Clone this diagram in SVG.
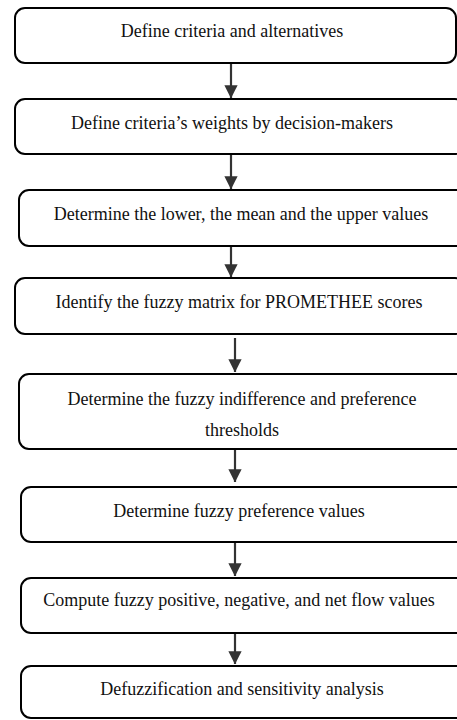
<svg xmlns="http://www.w3.org/2000/svg" width="457" height="720" viewBox="0 0 457 720">
<defs>
<style>
.box{fill:#fff;stroke:#000;stroke-width:2}
.t{font-family:"Liberation Serif","Times New Roman",serif;font-size:18px;fill:#111;text-anchor:middle}
.c{stroke:#333;stroke-width:2.2;fill:none}
</style>
<marker id="ah" markerWidth="6" markerHeight="6" refX="5.8" refY="3" orient="auto" markerUnits="strokeWidth">
<path d="M0,0 L6,3 L0,6 Z" fill="#333"/>
</marker>
</defs>
<rect width="457" height="720" fill="#fff"/>
<g id="connectors">
<line class="c" x1="231" y1="64" x2="231" y2="98" marker-end="url(#ah)"/>
<line class="c" x1="231" y1="155" x2="231" y2="189" marker-end="url(#ah)"/>
<line class="c" x1="231" y1="247" x2="231" y2="277" marker-end="url(#ah)"/>
<line class="c" x1="235" y1="338" x2="235" y2="372" marker-end="url(#ah)"/>
<line class="c" x1="235" y1="450" x2="235" y2="482" marker-end="url(#ah)"/>
<line class="c" x1="235" y1="543" x2="235" y2="576" marker-end="url(#ah)"/>
<line class="c" x1="235" y1="634" x2="235" y2="664" marker-end="url(#ah)"/>
</g>
<g id="n1"><rect class="box" x="15" y="8" width="441" height="55" rx="10"/><text class="t" x="232" y="37">Define criteria and alternatives</text></g>
<g id="n2"><rect class="box" x="15" y="99" width="450" height="55" rx="10"/><text class="t" x="232" y="129">Define criteria’s weights by decision-makers</text></g>
<g id="n3"><rect class="box" x="19" y="190" width="450" height="56" rx="10"/><text class="t" x="241" y="220">Determine the lower, the mean and the upper values</text></g>
<g id="n4"><rect class="box" x="15" y="278" width="450" height="56" rx="10"/><text class="t" x="239" y="308">Identify the fuzzy matrix for PROMETHEE scores</text></g>
<g id="n5"><rect class="box" x="19" y="374" width="450" height="75" rx="10"/><text class="t" x="242" y="405">Determine the fuzzy indifference and preference</text><text class="t" x="242" y="436">thresholds</text></g>
<g id="n6"><rect class="box" x="21" y="487" width="450" height="55" rx="10"/><text class="t" x="239" y="517">Determine fuzzy preference values</text></g>
<g id="n7"><rect class="box" x="21" y="578" width="450" height="55" rx="10"/><text class="t" x="239" y="606">Compute fuzzy positive, negative, and net flow values</text></g>
<g id="n8"><rect class="box" x="21" y="666" width="450" height="52" rx="10"/><text class="t" x="242" y="695">Defuzzification and sensitivity analysis</text></g>
</svg>
